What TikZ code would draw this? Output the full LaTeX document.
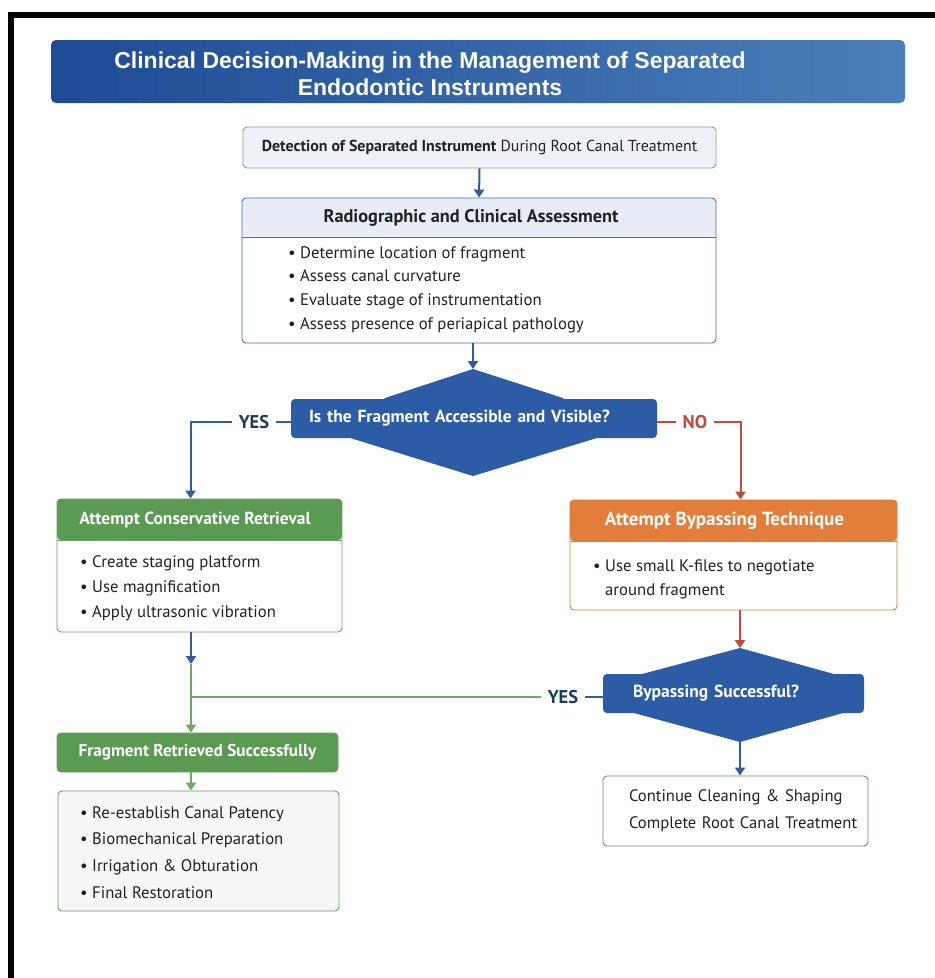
\documentclass[tikz,border=0pt]{standalone}
\usepackage{fontspec}
\setmainfont{PT Sans}
\newfontfamily\titlefont{Liberation Sans}
\usetikzlibrary{arrows.meta,calc}
\definecolor{titleL}{HTML}{1E4B94}
\definecolor{titleR}{HTML}{4A7FBA}
\definecolor{decblue}{HTML}{2C5CA5}
\definecolor{arrblue}{HTML}{2E5E9E}
\definecolor{navy}{HTML}{1C3B5E}
\definecolor{nored}{HTML}{C2493B}
\definecolor{grhdr}{HTML}{5A9A52}
\definecolor{grline}{HTML}{6FA862}
\definecolor{grbord}{HTML}{6C9E65}
\definecolor{orhdr}{HTML}{E37D3A}
\definecolor{orbord}{HTML}{CF7B43}
\definecolor{asmhdr}{HTML}{E6EDF6}
\definecolor{asmbord}{HTML}{4D6FA3}
\definecolor{detfill}{HTML}{EEF2F7}
\definecolor{detbord}{HTML}{8C9AAE}
\definecolor{contbord}{HTML}{6D83A8}
\definecolor{finfill}{HTML}{F6F7F6}
\definecolor{txt}{HTML}{222222}
\newcommand{\bul}{\makebox[12pt][l]{\textbullet}}
\tikzset{
  bx/.style={draw=#1, rounded corners=4pt, line width=0.9pt, inner sep=0pt},
  panel/.style n args={3}{bx=#1, fill=white,
    path picture={\fill[#2] (path picture bounding box.north west) rectangle ([yshift=-#3]path picture bounding box.north east);
      \draw[#1,line width=0.9pt] ([yshift=-#3]path picture bounding box.north west) -- ([yshift=-#3]path picture bounding box.north east);}},
  hd/.style={font=\bfseries\fontsize{17.5}{20}\selectfont, text=#1, inner sep=0pt},
  lst/.style={anchor=north west, align=left, inner sep=0pt, text=txt, font=\fontsize{16.7}{#1}\selectfont},
  dec/.style={fill=decblue, rounded corners=4pt, text=white, font=\bfseries\fontsize{17.5}{20}\selectfont, align=left},
  lbl/.style={font=\bfseries\fontsize{18.5}{20}\selectfont, text=#1, inner ysep=0pt, inner xsep=7pt},
  ln/.style={draw=#1, line width=2pt},
  arr/.style={ln=#1, -{Triangle[width=10pt,length=8pt]}}
}
\begin{document}
\begin{tikzpicture}[x=1pt,y=-1pt]
\useasboundingbox (0,0) rectangle (935,978);
\fill[white] (0,0) rectangle (935,978);
\draw[line width=6pt] (935,15) -- (11,15) -- (11,978);

\node[rounded corners=5pt, left color=titleL, right color=titleR, minimum width=854pt, minimum height=63pt, inner sep=0pt] (bar) at (478,71.5) {};
\node[text=white, font=\titlefont\bfseries\fontsize{23}{27}\selectfont, align=center, inner sep=0pt] (title) at (430,73.5)
  {Clinical Decision-Making in the Management of Separated\\Endodontic Instruments};

\node[bx=detbord, fill=detfill, minimum width=473pt, minimum height=41pt, text=txt, font=\fontsize{15.9}{18}\selectfont] (det) at (479.5,147.5)
  {\textbf{Detection of Separated Instrument} During Root Canal Treatment};

\node[panel={asmbord}{asmhdr}{39pt}, minimum width=474pt, minimum height=145pt] (asm) at (479,270.5) {};
\node[hd=txt, font=\bfseries\fontsize{18.3}{20}\selectfont] (asmhd) at (471,217.5) {Radiographic and Clinical Assessment};
\node[lst=23.7] (asmlst) at (288,246) {\bul Determine location of fragment\\ \bul Assess canal curvature\\ \bul Evaluate stage of instrumentation\\ \bul Assess presence of periapical pathology};

\coordinate (q1t) at (473,369);
\coordinate (q1b) at (473,476);
\fill[decblue] (q1t) -- (563,398) -- (600,437) -- (q1b) -- (347,437) -- (385,398) -- cycle;
\node[dec, inner xsep=18pt, text width=330pt, minimum height=39pt, inner ysep=0pt] (q1) at (474,418.5) {Is the Fragment Accessible and Visible?};

\node[lbl=navy] (yes1) at (254,422) {YES};
\node[lbl=nored] (no1) at (695,422) {NO};

\node[panel={grbord}{grhdr}{41pt}, minimum width=285pt, minimum height=133pt] (cons) at (199.5,565.5) {};
\node[hd=white] (conshd) at (195,520) {Attempt Conservative Retrieval};
\node[lst=25] (conslst) at (80,555) {\bul Create staging platform\\ \bul Use magnification\\ \bul Apply ultrasonic vibration};

\node[panel={orbord}{orhdr}{41pt}, minimum width=327pt, minimum height=110pt] (byp) at (733.5,555) {};
\node[hd=white, font=\bfseries\fontsize{19}{20}\selectfont] (byphd) at (724.5,521) {Attempt Bypassing Technique};
\node[lst=24] (byplst) at (593,559) {\bul Use small K-files to negotiate\\ \hspace*{12pt}around fragment};

\coordinate (q2t) at (740,648);
\coordinate (q2b) at (740,742);
\fill[decblue] (q2t) -- (834,674) -- (843,713) -- (q2b) -- (634,713) -- (642,674) -- cycle;
\node[dec, inner xsep=30pt, text width=201pt, minimum height=39pt, inner ysep=0pt] (q2) at (733.5,693.5) {Bypassing Successful?};
\node[lbl=navy] (yes2) at (563,697) {YES};

\node[bx=grbord, fill=grhdr, minimum width=281pt, minimum height=39pt, text=white, font=\bfseries\fontsize{17.2}{20}\selectfont] (frag) at (197.5,752.5) {Fragment Retrieved Successfully};
\node[bx=grbord, fill=finfill, minimum width=281pt, minimum height=120pt] (fin) at (198.5,851) {};
\node[lst=26.7] (finlst) at (80,806) {\bul Re-establish Canal Patency\\ \bul Biomechanical Preparation\\ \bul Irrigation \& Obturation\\ \bul Final Restoration};

\node[bx=contbord, fill=white, minimum height=70pt, text width=265pt, align=left, text=txt, font=\fontsize{16.6}{27}\selectfont] (cont) at (735.5,811)
  {\hspace*{26pt}Continue Cleaning \& Shaping\\\hspace*{26pt}Complete Root Canal Treatment};

\coordinate (j1) at (191,664);

\draw[arr=arrblue] (det.south) -- (asm.north);
\draw[arr=arrblue] (q1t |- asm.south) -- (q1t);
\draw[ln=arrblue] (q1.west |- yes1) -- (yes1.east);
\draw[arr=arrblue] (yes1.west) -| ([xshift=-9pt]cons.north);
\draw[ln=nored] (q1.east |- no1) -- (no1.west);
\draw[arr=nored] (no1.east) -| ([xshift=7pt]byp.north);
\draw[arr=nored] (q2t |- byp.south) -- (q2t);
\draw[arr=arrblue] (q2b) -- (q2b |- cont.north);
\draw[arr=arrblue] (j1 |- cons.south) -- (j1);
\draw[arr=grline] (j1) -- (j1 |- frag.north);
\draw[ln=grline] (yes2.west) -- (yes2 -| j1);
\draw[ln=arrblue] (q2.west |- yes2) -- (yes2.east);
\draw[arr=grline] (j1 |- frag.south) -- (j1 |- fin.north);
\end{tikzpicture}
\end{document}
